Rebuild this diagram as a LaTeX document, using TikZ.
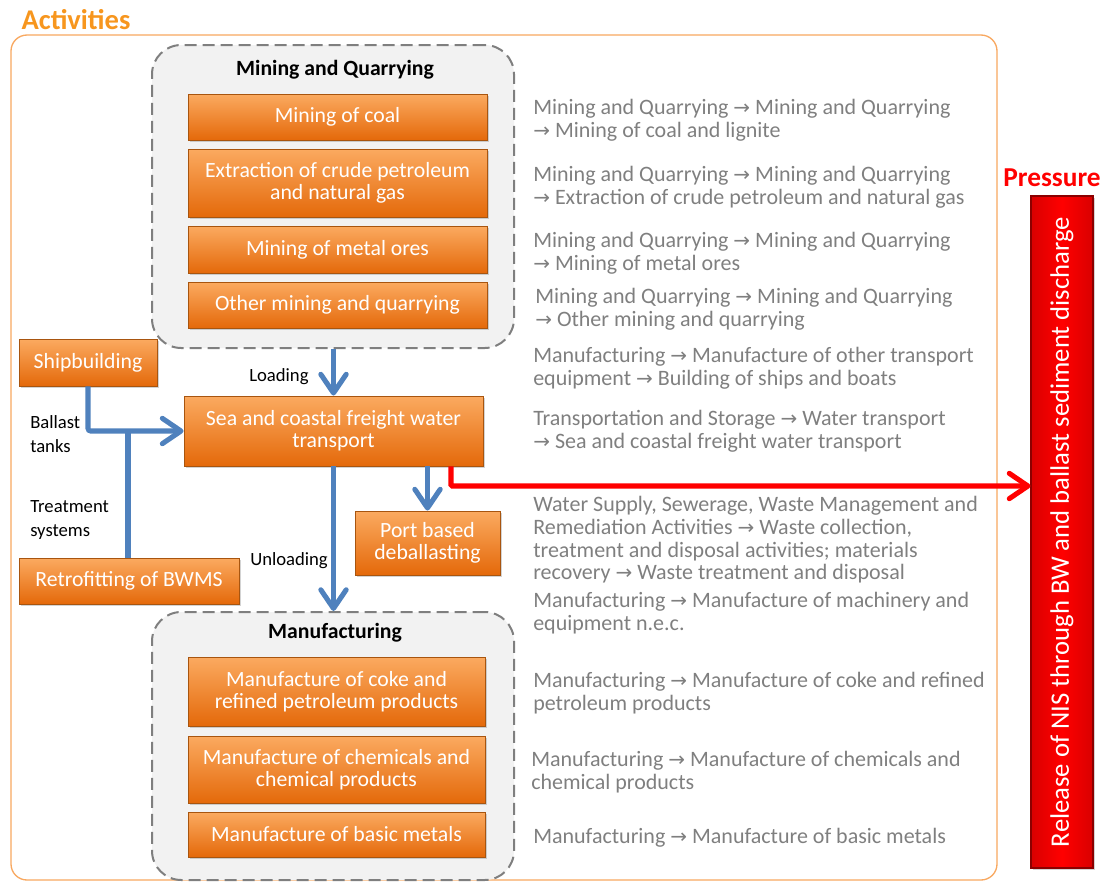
\documentclass[tikz,border=0pt]{standalone}
\usepackage{fontspec}
\setmainfont{Carlito}
\newfontfamily\symfont{DejaVu Sans}
\usetikzlibrary{arrows.meta,shadows,fit,calc}
\newcommand\rarr{{\symfont\fontsize{15}{15}\selectfont →}}
\definecolor{OrTop}{HTML}{FBAA60}
\definecolor{OrBot}{HTML}{E4690A}
\definecolor{OrEdge}{HTML}{A8550F}
\definecolor{Frame}{HTML}{F8A860}
\definecolor{ActOr}{HTML}{F7961E}
\definecolor{GrpFill}{HTML}{F2F2F2}
\definecolor{GrpLine}{HTML}{7F7F7F}
\definecolor{Flow}{HTML}{4F81BD}
\definecolor{GreyTxt}{HTML}{7F7F7F}
\definecolor{BarEdge}{HTML}{8B0000}
\tikzset{
  obox/.style={draw=OrEdge, line width=0.7pt, top color=OrTop, bottom color=OrBot,
    inner sep=0pt,
    drop shadow={shadow xshift=1.2pt, shadow yshift=-1.2pt, opacity=0.35}},
  otxt/.style={text=white, align=center, inner sep=0pt,
    font=\fontsize{16.3}{16.5}\selectfont},
  grp/.style={draw=GrpLine, fill=GrpFill, line width=1.5pt, dash pattern=on 9pt off 4.5pt,
    rounded corners=22pt, inner sep=0pt},
  grptitle/.style={font=\bfseries\fontsize{16.3}{17}\selectfont, text=black},
  gtxt/.style={anchor=west, align=left, text=GreyTxt, inner sep=0pt,
    font=\fontsize{16.5}{17}\selectfont},
  lbl/.style={align=left, text=black, inner sep=0pt, font=\fontsize{14}{18}\selectfont},
  flow/.style={draw=Flow, line width=3.8pt, rounded corners=2pt,
    -{Straight Barb[length=14pt, width=19pt, round]}},
  joint/.style={draw=Flow, line width=3.8pt},
  press/.style={draw=red, line width=3.8pt, rounded corners=1pt,
    -{Straight Barb[length=14pt, width=19pt, round]}},
}
\begin{document}
\begin{tikzpicture}[x=0.75pt,y=-0.75pt]
\useasboundingbox (0,0) rectangle (1107,883);

% outer frame of the activities
\node[draw=Frame, line width=1pt, rounded corners=12pt, inner sep=0pt,
      fit={(11,35)(997,880)}] (frame) {};
\node[text=ActOr, font=\bfseries\fontsize{21.4}{22}\selectfont] (act) at (76,20) {Activities};

% mining and quarrying group
\node[grp, fit={(152,45)(514,348)}] (mq) {};
\node[grptitle] (mqt) at (335,70) {Mining and Quarrying};
\node[obox, fit={(188,94)(487,140)}] (coal) {};
\node[otxt] at (coal.center) {Mining of coal};
\node[obox, fit={(188,149)(487,217)}] (crude) {};
\node[otxt] at (crude.center) {Extraction of crude petroleum\\and natural gas};
\node[obox, fit={(188,226)(487,273)}] (metal) {};
\node[otxt] at (metal.center) {Mining of metal ores};
\node[obox, fit={(188,282)(487,328)}] (other) {};
\node[otxt] at (other.center) {Other mining and quarrying};

% manufacturing group
\node[grp, fit={(152,612)(514,880)}] (mf) {};
\node[grptitle] (mft) at (335,633) {Manufacturing};
\node[obox, fit={(188,657)(485,726)}] (coke) {};
\node[otxt] at (coke.center) {Manufacture of coke and\\refined petroleum products};
\node[obox, fit={(188,736)(485,803)}] (chem) {};
\node[otxt] at (chem.center) {Manufacture of chemicals and\\chemical products};
\node[obox, fit={(188,812)(485,857)}] (basic) {};
\node[otxt] at (basic.center) {Manufacture of basic metals};

% ship related activities
\node[obox, fit={(19,339)(157,386)}] (ship) {};
\node[otxt] at (ship.center) {Shipbuilding};
\node[obox, fit={(184,396)(483,466)}] (sea) {};
\node[otxt] at (sea.center) {Sea and coastal freight water\\transport};
\node[obox, fit={(355,511)(500,575)}] (port) {};
\node[otxt] at (port.center) {Port based\\deballasting};
\node[obox, fit={(19,558)(239,604)}] (retro) {};
\node[otxt] at (retro.center) {Retrofitting of BWMS};

% pressure
\node[text=red, font=\bfseries\fontsize{20.5}{21}\selectfont] (prt) at (1052,178) {Pressure};
\node[fit={(1031,196)(1093,868)}, inner sep=0pt, draw=BarEdge, line width=0.8pt,
      left color=red!85!black, right color=red!85!black, middle color=red,
      drop shadow={shadow xshift=1.2pt, shadow yshift=-1.2pt, opacity=0.35}] (bar) {};
\node[rotate=90, text=white, font=\fontsize{20}{21}\selectfont] (bartxt) at (bar.center)
  {Release of NIS through BW and ballast sediment discharge};

% flows
\coordinate (shipturn) at (ship.south |- sea.west);
\coordinate (retroj) at (128,431);
\draw[flow] (mq.south -| sea.north) -- (sea.north);
\draw[flow] (ship.south) -- (shipturn) -- (sea.west);
\draw[joint] (retro.north -| retroj) -- (retroj);
\draw[flow] (sea.south) -- (mf.north -| sea.south);
\draw[flow] (sea.south -| port.north) -- (port.north);
\coordinate (redturn) at (451,486);
\draw[press] (sea.south -| redturn) -- (redturn) -- (redturn -| bar.west);

% flow labels
\node[lbl, anchor=west] (lload) at (249,377) {Loading};
\node[lbl, anchor=west] (lball) at (30,434) {Ballast\\tanks};
\node[lbl, anchor=west] (ltreat) at (30,520) {Treatment\\systems};
\node[lbl, anchor=west] (lunl) at (250,561) {Unloading};

% classification paths
\node[gtxt] (c1) at (533,120) {Mining and Quarrying \rarr{} Mining and Quarrying\\\rarr{} Mining of coal and lignite};
\node[gtxt] (c2) at (533,187) {Mining and Quarrying \rarr{} Mining and Quarrying\\\rarr{} Extraction of crude petroleum and natural gas};
\node[gtxt] (c3) at (533,253) {Mining and Quarrying \rarr{} Mining and Quarrying\\\rarr{} Mining of metal ores};
\node[gtxt] (c4) at (535,309) {Mining and Quarrying \rarr{} Mining and Quarrying\\\rarr{} Other mining and quarrying};
\node[gtxt] (c5) at (533,368) {Manufacturing \rarr{} Manufacture of other transport\\equipment \rarr{} Building of ships and boats};
\node[gtxt] (c6) at (533,431) {Transportation and Storage \rarr{} Water transport\\\rarr{} Sea and coastal freight water transport};
\node[gtxt] (c7) at (533,540) {Water Supply, Sewerage, Waste Management and\\Remediation Activities \rarr{} Waste collection,\\treatment and disposal activities; materials\\recovery \rarr{} Waste treatment and disposal};
\node[gtxt] (c8) at (533,613) {Manufacturing \rarr{} Manufacture of machinery and\\equipment n.e.c.};
\node[gtxt] (c9) at (533,693) {Manufacturing \rarr{} Manufacture of coke and refined\\petroleum products};
\node[gtxt] (c10) at (531,772) {Manufacturing \rarr{} Manufacture of chemicals and\\chemical products};
\node[gtxt] (c11) at (533,838) {Manufacturing \rarr{} Manufacture of basic metals};
\end{tikzpicture}
\end{document}
